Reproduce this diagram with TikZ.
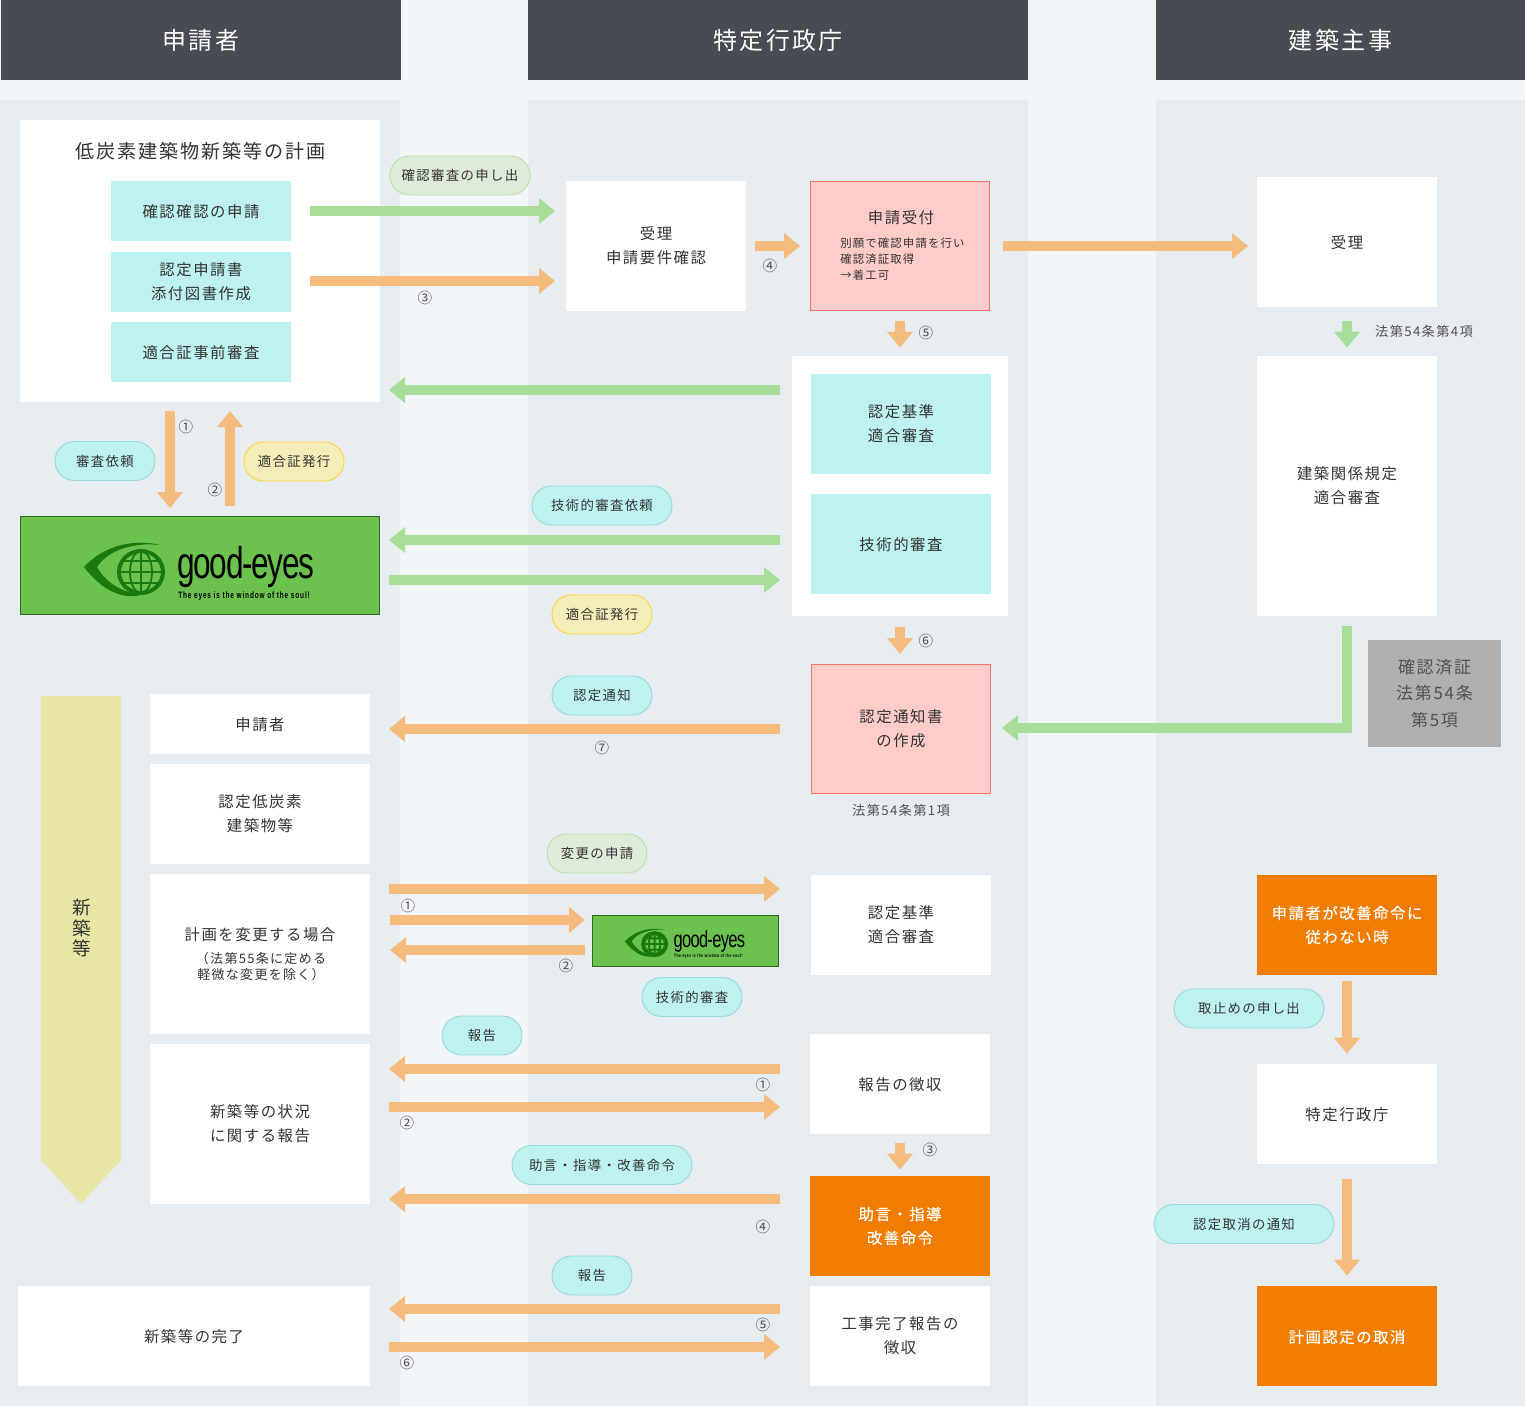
\documentclass[tikz,border=0pt]{standalone}
\usepackage{fontspec}
\usepackage{tikz}
\usetikzlibrary{arrows.meta}
\setmainfont[LetterSpace=10]{Noto Sans CJK JP}
\newfontfamily\thickfont[LetterSpace=10,FakeBold=0.35]{Noto Sans CJK JP}
\newfontfamily\logofont[FakeStretch=0.71,LetterSpace=-3]{Liberation Sans}
\newfontfamily\logotagfont[FakeStretch=0.7,LetterSpace=9]{Liberation Sans}
\definecolor{pagebg}{HTML}{F2F6F9}
\definecolor{colbg}{HTML}{E6ECF0}
\definecolor{headgray}{HTML}{464C52}
\definecolor{inktext}{HTML}{333333}
\definecolor{tealbox}{HTML}{BEF2F0}
\definecolor{tealedge}{HTML}{99D9D8}
\definecolor{yellowbox}{HTML}{F5EDB8}
\definecolor{yellowedge}{HTML}{FFD23F}
\definecolor{leafbox}{HTML}{DFEBD9}
\definecolor{leafedge}{HTML}{B8E2A8}
\definecolor{redbox}{HTML}{FFCCC9}
\definecolor{rededge}{HTML}{FF7468}
\definecolor{orangebox}{HTML}{F07D00}
\definecolor{graybox}{HTML}{B0B0B0}
\definecolor{bandyellow}{HTML}{E7E6A5}
\definecolor{arroworange}{HTML}{F6BC7E}
\definecolor{arrowgreen}{HTML}{A8DD9A}
\definecolor{logogreen}{HTML}{6CC24F}
\definecolor{logoedge}{HTML}{2F6B1F}
\definecolor{logodark}{HTML}{1B7A0E}
\def\pxu{0.0265cm}
\newcommand{\nudgedown}[1]{\setbox0\hbox{申}\rule{0pt}{\dimexpr\ht0+#1\relax}}
\tikzset{
  boxwh/.style 2 args={minimum width=#1*\pxu,minimum height=#2*\pxu,inner sep=0pt},
  txt/.style={font=\fontsize{11.6}{18}\selectfont,text=inktext,align=center,execute at begin node={\nudgedown{1.5pt}}},
  deeper/.style={execute at begin node={\nudgedown{3pt}}},
  whitebox/.style={txt,fill=white},
  teal/.style={txt,fill=tealbox},
  redfill/.style={txt,fill=redbox,draw=rededge,line width=0.7pt},
  orangefill/.style={txt,fill=orangebox,text=white,font=\thickfont\fontsize{11.6}{18}\selectfont},
  headbox/.style={fill=headgray,text=white,font=\fontsize{18.1}{18}\selectfont,execute at begin node={\nudgedown{0.4pt}}},
  pill/.style={font=\fontsize{10.1}{12}\selectfont,text=inktext,rounded corners=19.5*\pxu,line width=0.7pt},
  tealpill/.style={pill,fill=tealbox,draw=tealedge},
  yellowpill/.style={pill,fill=yellowbox,draw=yellowedge},
  leafpill/.style={pill,fill=leafbox,draw=leafedge},
  lawnote/.style={font=\fontsize{10}{12}\selectfont,text=inktext!85},
  circnum/.style={font=\fontsize{11}{12}\selectfont,text=inktext!85,inner sep=0pt},
  oarrow/.style={arroworange,line width=10*\pxu,-{Triangle[length=16*\pxu,width=25*\pxu]}},
  garrow/.style={arrowgreen,line width=10*\pxu,-{Triangle[length=16*\pxu,width=25*\pxu]}},
  gaps/.style 2 args={shorten <=#1*\pxu,shorten >=#2*\pxu},
  goodlogo/.pic={
    \fill[logodark] (84,567) .. controls (102,547) and (132,538) .. (160,545)
      .. controls (134,542) and (108,550) .. (97,567)
      .. controls (106,583) and (122,592) .. (141,595)
      .. controls (120,600) and (100,588) .. (84,567) -- cycle;
    \draw[logodark,line width=4*\pxu] (141,572) circle (22 and 21);
    \draw[logodark,line width=1.8*\pxu] (141,572) circle (11 and 21) (141,551)--(141,593)
      (119,572)--(163,572) (122,561)--(160,561) (122,583)--(160,583);
    \node[anchor=base west,inner sep=0pt,transform shape,font=\logofont\fontsize{33.6}{34}\selectfont] (logoname) at (177,578) {good-eyes};
    \node[anchor=base west,inner sep=0pt,transform shape,font=\logotagfont\bfseries\fontsize{7}{8}\selectfont] (logotag) at (178,598) {The eyes is the window of the soul!};
  }
}
\begin{document}
\begin{tikzpicture}[x=0.0265cm,y=-0.0265cm]
  \useasboundingbox (0,0) rectangle (1525,1406);
  \fill[pagebg] (0,0) rectangle (1525,1406);
  \fill[colbg] (0,100) rectangle (400,1406) (528,100) rectangle (1028,1406) (1156,100) rectangle (1525,1406);
  \node[headbox,boxwh={400}{80}] (headapp) at (201,40) {申請者};
  \node[headbox,boxwh={500}{80}] (headgov) at (778,40) {特定行政庁};
  \node[headbox,boxwh={369}{80}] (headchk) at (1340.5,40) {建築主事};

  \node[whitebox,boxwh={360}{282}] (plan) at (200,261) {};
  \node[txt,font=\fontsize{14.4}{18}\selectfont] (plantitle) at (201,150) {低炭素建築物新築等の計画};
  \node[teal,boxwh={180}{60}] (kakunin) at (201,211) {確認確認の申請};
  \node[teal,deeper,boxwh={180}{60}] (ninteidoc) at (201,282) {認定申請書\\添付図書作成};
  \node[teal,boxwh={180}{60}] (tekigopre) at (201,352) {適合証事前審査};
  \node[fill=logogreen,draw=logoedge,line width=0.7pt,boxwh={359}{98}] (logobig) at (200,565.5) {};
  \pic at (0,0) {goodlogo};

  \node[whitebox,boxwh={180}{130}] (juri) at (656,246) {受理\\申請要件確認};
  \node[redfill,boxwh={179}{129}] (uketsuke) at (900,246) {};
  \node[txt] (uketitle) at (901,217) {申請受付};
  \node[txt,font=\fontsize{8.6}{12}\selectfont,align=left,anchor=north west,inner sep=0pt] (ukenote) at (840,238) {別願で確認申請を行い\\確認済証取得\\→着工可};
  \node[whitebox,boxwh={216}{260}] (shinsa) at (900,486) {};
  \node[teal,deeper,boxwh={180}{100}] (kijun) at (901,424) {認定基準\\適合審査};
  \node[teal,boxwh={180}{100}] (gijutsu) at (901,544) {技術的審査};
  \node[redfill,boxwh={179}{129}] (tsuchisho) at (901,729) {認定通知書\\の作成};
  \node[lawnote] (law1) at (901,810) {法第54条第1項};
  \node[whitebox,deeper,boxwh={180}{100}] (kijun2) at (901,925) {認定基準\\適合審査};
  \node[fill=logogreen,draw=logoedge,line width=0.7pt,boxwh={186}{51}] (logosmall) at (685.5,941) {};
  \pic[scale=0.522] at (581,645.5) {goodlogo};
  \node[whitebox,boxwh={180}{100}] (choshu) at (900,1084) {報告の徴収};
  \node[orangefill,boxwh={180}{100}] (jogen) at (900,1226) {助言・指導\\改善命令};
  \node[whitebox,boxwh={180}{100}] (kanryo2) at (900,1336) {工事完了報告の\\徴収};

  \node[whitebox,boxwh={180}{130}] (juri2) at (1347,242) {受理};
  \node[whitebox,deeper,boxwh={180}{260}] (kenchiku) at (1347,486) {建築関係規定\\適合審査};
  \node[fill=graybox,font=\fontsize{12.8}{19.7}\selectfont,text=inktext!85,align=center,boxwh={133}{107}] (kakuninzumi) at (1434.5,693.5) {確認済証\\法第54条\\第5項};
  \node[orangefill,boxwh={180}{100}] (kaizen) at (1347,925) {申請者が改善命令に\\従わない時};
  \node[whitebox,boxwh={180}{100}] (tokutei) at (1347,1114) {特定行政庁};
  \node[orangefill,boxwh={180}{100}] (torikeshi) at (1347,1336) {計画認定の取消};

  \fill[bandyellow] (41,696) -- (121,696) -- (121,1160) -- (81,1204) -- (41,1160) -- cycle;
  \node[txt,font=\fontsize{14}{15.5}\selectfont] (shinchiku) at (82,928) {新\\築\\等};
  \node[whitebox,boxwh={220}{60}] (shinseisha) at (260,724) {申請者};
  \node[whitebox,boxwh={220}{100}] (teitanso) at (260,814) {認定低炭素\\建築物等};
  \node[whitebox,boxwh={220}{160}] (henko) at (260,954) {};
  \node[txt] (henkotitle) at (260,934) {計画を変更する場合};
  \node[txt,font=\fontsize{9.8}{12}\selectfont] (henkonote) at (261,967) {（法第55条に定める\\軽微な変更を除く）};
  \node[whitebox,boxwh={220}{160}] (jokyo) at (260,1124) {新築等の状況\\に関する報告};
  \node[whitebox,boxwh={352}{100}] (kanryo) at (194,1336) {新築等の完了};

  \coordinate (ga1) at (310,211);  \coordinate (gb1) at (555,211);
  \coordinate (oa1) at (310,281);  \coordinate (ob1) at (555,281);
  \coordinate (oa2) at (1003,246); \coordinate (ob2) at (1248,246);
  \coordinate (ga2) at (780,390);  \coordinate (gb2) at (389,390);
  \coordinate (oa3) at (170,411);  \coordinate (ob3) at (170,508);
  \coordinate (oa4) at (230,506);  \coordinate (ob4) at (230,411);
  \coordinate (ga3) at (780,540);  \coordinate (gb3) at (389,540);
  \coordinate (ga4) at (389,580);  \coordinate (gb4) at (780,580);
  \coordinate (oa5) at (900,627);  \coordinate (ob5) at (900,654);
  \coordinate (oa6) at (780,729);  \coordinate (ob6) at (389,729);
  \coordinate (oa7) at (389,889);  \coordinate (ob7) at (780,889);
  \coordinate (oa8) at (390,920);  \coordinate (ob8) at (585,920);
  \coordinate (oa9) at (585,950);  \coordinate (ob9) at (390,950);
  \coordinate (oa10) at (780,1069); \coordinate (ob10) at (389,1069);
  \coordinate (oa11) at (389,1107); \coordinate (ob11) at (780,1107);
  \coordinate (oa12) at (780,1199); \coordinate (ob12) at (389,1199);
  \coordinate (oa13) at (780,1309); \coordinate (ob13) at (389,1309);
  \coordinate (oa14) at (389,1347); \coordinate (ob14) at (780,1347);
  \coordinate (ga5) at (1347,626); \coordinate (gk5) at (1347,728); \coordinate (gb5) at (1002,728);

  \foreach \aa/\bb in {ga1/gb1,ga2/gb2,ga3/gb3,ga4/gb4}
    \draw[garrow] (\aa) -- (\bb);
  \foreach \aa/\bb in {oa1/ob1,oa2/ob2,oa3/ob3,oa4/ob4,oa5/ob5,oa6/ob6,oa7/ob7,oa8/ob8,oa9/ob9,oa10/ob10,oa11/ob11,oa12/ob12,oa13/ob13,oa14/ob14}
    \draw[oarrow] (\aa) -- (\bb);
  \draw[garrow] (ga5) -- (gk5) -- (gb5);
  \draw[oarrow,gaps={9}{10}] (juri.east) -- (uketsuke.west);
  \draw[oarrow,gaps={10}{8}] (uketsuke.south) -- (shinsa.north);
  \draw[garrow,gaps={14}{8}] (juri2.south) -- (kenchiku.north);
  \draw[oarrow,gaps={9}{6}] (choshu.south) -- (jogen.north);
  \draw[oarrow,gaps={6}{10}] (kaizen.south) -- (tokutei.north);
  \draw[oarrow,gaps={15}{10}] (tokutei.south) -- (torikeshi.north);

  \node[leafpill,boxwh={140}{39}] (plkakunin) at (460,175.5) {確認審査の申し出};
  \node[tealpill,boxwh={100}{39}] (plirai) at (105,461) {審査依頼};
  \node[yellowpill,boxwh={100}{39}] (plhakko) at (294,461.5) {適合証発行};
  \node[tealpill,boxwh={140}{39}] (plgijutsu) at (602,505.5) {技術的審査依頼};
  \node[yellowpill,boxwh={100}{39}] (plhakko2) at (602,614.5) {適合証発行};
  \node[tealpill,boxwh={100}{39}] (pltsuchi) at (602,695.5) {認定通知};
  \node[leafpill,boxwh={100}{39}] (plhenko) at (597,853.5) {変更の申請};
  \node[tealpill,boxwh={100}{39}] (plgijutsu2) at (692,997) {技術的審査};
  \node[tealpill,boxwh={80}{39}] (plhokoku) at (482,1035.5) {報告};
  \node[tealpill,boxwh={180}{39}] (pljogen) at (602,1165) {助言・指導・改善命令};
  \node[tealpill,boxwh={80}{39}] (plhokoku2) at (592,1275.5) {報告};
  \node[tealpill,boxwh={150}{39}] (pltoriyame) at (1249,1008.5) {取止めの申し出};
  \node[tealpill,boxwh={180}{39}] (pltorikeshi) at (1244,1224) {認定取消の通知};

  \node[lawnote] (law4) at (1424,331) {法第54条第4項};
  \node[circnum] (numc) at (425,298) {③};
  \node[circnum] (numd) at (770,266) {④};
  \node[circnum] (nume) at (926,333) {⑤};
  \node[circnum] (numa) at (186,427) {①};
  \node[circnum] (numb) at (215,490) {②};
  \node[circnum] (numf) at (926,641) {⑥};
  \node[circnum] (numg) at (602,748) {⑦};
  \node[circnum] (numh) at (408,906) {①};
  \node[circnum] (numi) at (566,966) {②};
  \node[circnum] (numj) at (763,1085) {①};
  \node[circnum] (numk) at (407,1123) {②};
  \node[circnum] (numl) at (930,1150) {③};
  \node[circnum] (numm) at (763,1227) {④};
  \node[circnum] (numn) at (763,1325) {⑤};
  \node[circnum] (numo) at (407,1363) {⑥};
\end{tikzpicture}
\end{document}
